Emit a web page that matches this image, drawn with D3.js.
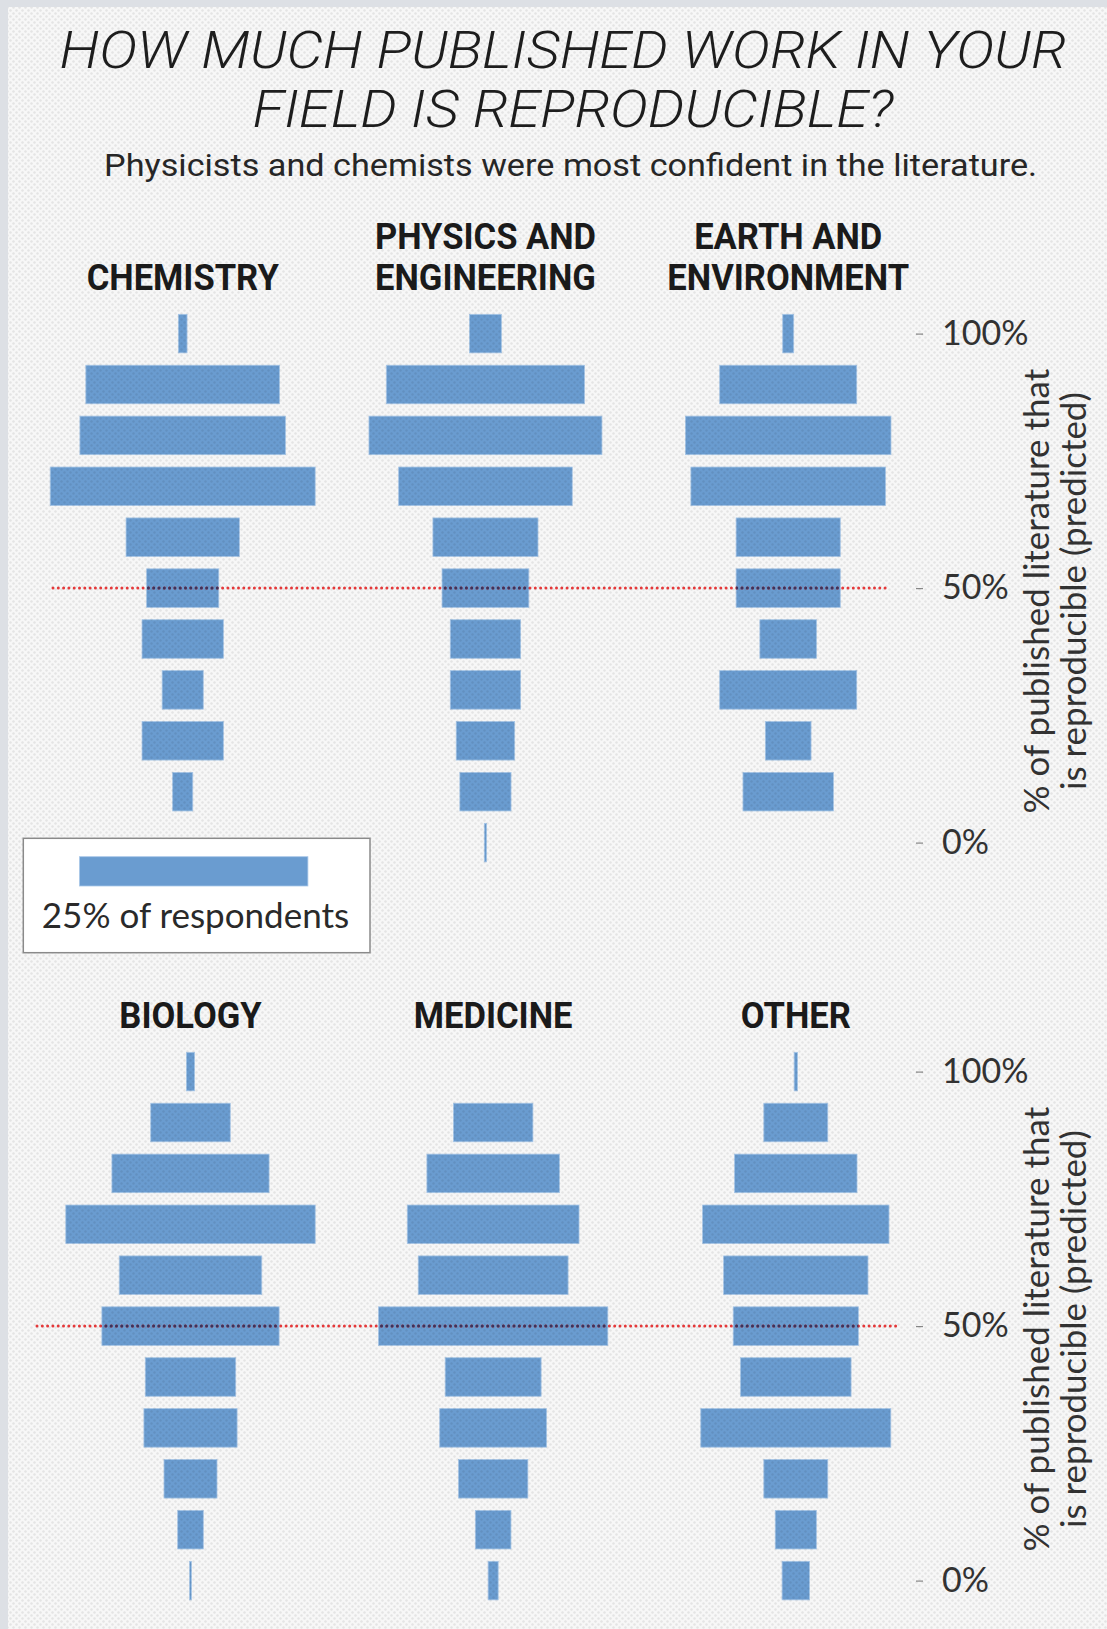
<!DOCTYPE html>
<html>
<head>
<meta charset="utf-8">
<script src="https://cdnjs.cloudflare.com/ajax/libs/d3/7.8.5/d3.min.js"></script>
<style>
  body { margin: 0; background: #f5f5f5; }
  svg { display: block; }
</style>
</head>
<body>
<div id="chart"></div>
<script>

// share of respondents (%) per predicted-reproducibility bin, bins 0% .. 100%
var bins = [0, 10, 20, 30, 40, 50, 60, 70, 80, 90, 100];

var chemistry = [0, 2.2, 8.9, 4.5, 8.9, 7.9, 12.4, 29.0, 22.5, 21.2, 0.95];
var physics   = [0.25, 5.6, 6.4, 7.7, 7.7, 9.5, 11.5, 19.0, 25.5, 21.7, 3.5];
var earth     = [0, 9.9, 5.0, 15.0, 6.2, 11.4, 11.4, 21.3, 22.5, 15.0, 1.2];
var biology   = [0.2, 2.8, 5.8, 10.2, 9.9, 19.4, 15.6, 27.3, 17.2, 8.7, 0.9];
var medicine  = [1.1, 3.9, 7.6, 11.7, 10.5, 25.1, 16.4, 18.8, 14.5, 8.7, 0];
var other     = [3.0, 4.5, 7.0, 20.8, 12.1, 13.7, 15.8, 20.4, 13.4, 7.0, 0.36];

var fieldLabels = [["CHEMISTRY"], ["PHYSICS AND", "ENGINEERING"], ["EARTH AND", "ENVIRONMENT"],
                   ["BIOLOGY"], ["MEDICINE"], ["OTHER"]];
var fieldValues = [chemistry, physics, earth, biology, medicine, other];

var tickValues = [0, 50, 100];
var legendValue = 25;
var legendLabel = "25% of respondents";
var titleLines = ["HOW MUCH PUBLISHED WORK IN YOUR", "FIELD IS REPRODUCIBLE?"];
var subtitle = "Physicists and chemists were most confident in the literature.";
var axisTitle = ["% of published literature that", "is reproducible (predicted)"];

var width = 1107,
    height = 1629,
    barColor = "#6a9cd0";

var rows = [
  { fields: [0, 1, 2], dy: 0,   x0: 182.7, x1: 788.2, line: [53, 887] },
  { fields: [3, 4, 5], dy: 738, x0: 190.5, x1: 795.8, line: [37, 898] }
];

var y = d3.scaleLinear().domain([0, 100]).range([842.6, 333.6]);
var w = d3.scaleLinear().domain([0, legendValue]).range([0, 228.4]);
var barH = (y(0) - y(10)) * 0.757;

var svg = d3.select("#chart").append("svg")
    .attr("width", width)
    .attr("height", height);

var defs = svg.append("defs");
var grain = defs.append("pattern")
    .attr("id", "grain")
    .attr("patternUnits", "userSpaceOnUse")
    .attr("width", 6).attr("height", 6);
grain.append("circle").attr("cx", 1.5).attr("cy", 1.5).attr("r", 1.2).attr("fill", "rgba(0,0,0,0.08)");
grain.append("circle").attr("cx", 4.5).attr("cy", 4.5).attr("r", 1.2).attr("fill", "rgba(0,0,0,0.08)");

// page frame + paper
svg.append("rect").attr("width", width).attr("height", height).attr("fill", "#dde0e5");
svg.append("rect").attr("x", 8).attr("y", 7).attr("width", width - 8).attr("height", height - 7).attr("fill", "#f7f7f7");

rows.forEach(function(row, r) {
  var g = svg.append("g").attr("transform", "translate(0," + row.dy + ")");
  var x = d3.scalePoint().domain(row.fields).range([row.x0, row.x1]);

  var clip = defs.append("clipPath").attr("id", "mid" + r);

  row.fields.forEach(function(f) {
    var data = bins.map(function(b, i) { return { bin: b, v: fieldValues[f][i] }; })
        .filter(function(d) { return d.v > 0; });

    g.selectAll(null)
        .data(data)
      .enter().append("rect")
        .attr("x", function(d) { return x(f) - w(d.v) / 2; })
        .attr("y", function(d) { return y(d.bin) - barH / 2; })
        .attr("width", function(d) { return w(d.v); })
        .attr("height", barH)
        .attr("fill", barColor)
        .attr("stroke", "#a8c7e8")
        .attr("stroke-width", 0.8);

    clip.selectAll(null)
        .data(data.filter(function(d) { return d.bin === 50; }))
      .enter().append("rect")
        .attr("x", function(d) { return x(f) - w(d.v) / 2; })
        .attr("y", function(d) { return y(d.bin) - barH / 2 + row.dy; })
        .attr("width", function(d) { return w(d.v); })
        .attr("height", barH);

    // condensed bold heading
    var lab = fieldLabels[f];
    g.append("text")
        .attr("transform", "translate(" + x(f) + ",0) scale(0.96,1)")
        .attr("text-anchor", "middle")
        .style("font-family", "Roboto, 'Liberation Sans', sans-serif")
        .style("font-weight", 700)
        .style("font-size", "36px")
        .attr("fill", "#1b1b1b")
      .selectAll("tspan")
        .data(lab)
      .enter().append("tspan")
        .attr("x", 0)
        .attr("y", function(d, i) { return y(100) - 43.6 - (lab.length - 1 - i) * 41; })
        .text(function(d) { return d; });
  });

  // 50% reference line
  g.append("line")
      .attr("x1", row.line[0]).attr("x2", row.line[1])
      .attr("y1", y(50)).attr("y2", y(50))
      .attr("stroke", "#e8393a")
      .attr("stroke-width", 3)
      .attr("stroke-linecap", "round")
      .attr("stroke-dasharray", "0 5.3");
  svg.append("line")
      .attr("clip-path", "url(#mid" + r + ")")
      .attr("x1", row.line[0]).attr("x2", row.line[1])
      .attr("y1", y(50) + row.dy).attr("y2", y(50) + row.dy)
      .attr("stroke", "#39355f")
      .attr("stroke-width", 3)
      .attr("stroke-linecap", "round")
      .attr("stroke-dasharray", "0 5.3");

  // right axis
  var axis = g.append("g")
      .attr("transform", "translate(916,0)")
      .call(d3.axisRight(y).tickValues(tickValues).tickFormat(function(d) { return d + "%"; })
        .tickSize(7).tickPadding(19));
  axis.select(".domain").remove();
  axis.selectAll(".tick line").attr("stroke", "#888").attr("stroke-width", 1.2);
  axis.selectAll(".tick text")
      .attr("fill", "#333")
      .style("font-family", "Lato, 'Open Sans', sans-serif")
      .style("font-size", "34px");

  var at = g.append("g")
      .attr("transform", "translate(1049," + (y(50) + 3) + ") rotate(-90)");
  at.selectAll("text")
      .data(axisTitle)
    .enter().append("text")
      .attr("y", function(d, i) { return i * 37; })
      .attr("text-anchor", "middle")
      .attr("fill", "#333")
      .style("font-family", "Lato, 'Open Sans', sans-serif")
      .style("font-size", "35px")
      .text(function(d) { return d; });
});

// paper texture over the marks
svg.append("rect").attr("x", 8).attr("y", 7).attr("width", width - 8).attr("height", height - 7)
    .attr("fill", "url(#grain)");

// legend
var legend = svg.append("g");
legend.append("rect")
    .attr("x", 23.3).attr("y", 838.3)
    .attr("width", 346.7).attr("height", 114.4)
    .attr("fill", "#fff")
    .attr("stroke", "#8a8a8a")
    .attr("stroke-width", 1.5);
legend.append("rect")
    .attr("x", 193.7 - w(legendValue) / 2).attr("y", 856.7)
    .attr("width", w(legendValue)).attr("height", 29.3)
    .attr("fill", barColor)
    .attr("stroke", "#a8c7e8")
    .attr("stroke-width", 0.8);
legend.append("text")
    .attr("x", 195.5).attr("y", 928.3)
    .attr("text-anchor", "middle")
    .attr("fill", "#2a2a2a")
    .style("font-family", "Lato, 'Open Sans', sans-serif")
    .style("font-size", "35px")
    .text(legendLabel);

// titles
var titleX = [563, 573],
    titleWidths = [1007, 641];
svg.selectAll(".title")
    .data(titleLines)
  .enter().append("text")
    .attr("class", "title")
    .attr("x", function(d, i) { return titleX[i]; })
    .attr("y", function(d, i) { return 68.3 + i * 58.4; })
    .attr("text-anchor", "middle")
    .attr("textLength", function(d, i) { return titleWidths[i]; })
    .attr("lengthAdjust", "spacingAndGlyphs")
    .attr("fill", "#1d1d1d")
    .style("font-family", "Roboto, sans-serif")
    .style("font-weight", 300)
    .style("font-style", "italic")
    .style("font-size", "51px")
    .text(function(d) { return d; });

svg.append("text")
    .attr("x", 570.6)
    .attr("y", 176)
    .attr("text-anchor", "middle")
    .attr("textLength", 933)
    .attr("lengthAdjust", "spacingAndGlyphs")
    .attr("fill", "#262626")
    .style("font-family", "Roboto, sans-serif")
    .style("font-size", "32px")
    .text(subtitle);

</script>
</body>
</html>
